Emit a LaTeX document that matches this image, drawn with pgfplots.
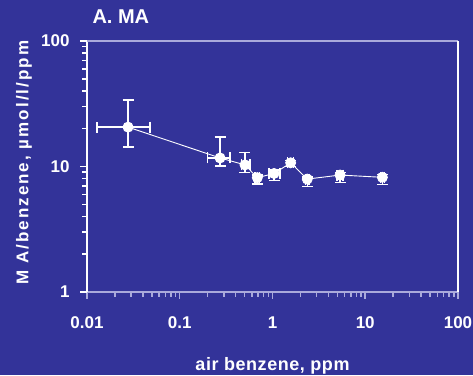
\documentclass[border=0pt]{standalone}
\usepackage{pgfplots}
\pgfplotsset{compat=1.18}
\usepackage{fontspec}
\setmainfont{Liberation Sans}
\definecolor{bg}{RGB}{51,51,153}
\definecolor{lav}{RGB}{170,170,220}
\begin{document}
\begin{tikzpicture}
\fill[bg] (-87pt,-83pt) rectangle (386pt,292pt);
\begin{axis}[
  at={(0,0)}, anchor=south west,
  scale only axis, width=371pt, height=251pt,
  xmode=log, ymode=log,
  xmin=0.01, xmax=100, ymin=1, ymax=100,
  axis x line*=bottom, axis y line*=left,
  xtick={0.01,0.1,1,10,100}, xticklabels={0.01,0.1,1,10,100},
  ytick={1,10,100}, yticklabels={1,10,100},
  minor xtick={0.02,0.03,0.04,0.05,0.06,0.07,0.08,0.09,0.2,0.3,0.4,0.5,0.6,0.7,0.8,0.9,2,3,4,5,6,7,8,9,20,30,40,50,60,70,80,90},
  minor ytick={2,3,4,5,6,7,8,9,20,30,40,50,60,70,80,90},
  tick align=outside,
  major tick length=7pt, minor tick length=5pt,
  x axis line style={lav, line width=1.2pt, -},
  y axis line style={white, line width=1.2pt, -},
  tick style={line width=1.5pt, draw=lav},
  every y tick/.append style={draw=white},
  every minor y tick/.append style={draw=white},
  ticklabel style={font=\fontsize{17}{17}\selectfont\bfseries, text=white},
  xticklabel style={yshift=-14pt},
  yticklabel style={xshift=-7pt},
  xlabel={air benzene, ppm},
  ylabel={M A/benzene, µmol/l/ppm},
  xlabel style={at={(axis description cs:0.5,-0.295)}, anchor=center, text=white,
    font=\fontsize{18}{18}\selectfont\bfseries\addfontfeature{LetterSpace=3}},
  ylabel style={at={(axis description cs:-0.17,0.515)}, anchor=center, text=white,
    font=\fontsize{17}{17}\selectfont\bfseries\addfontfeature{LetterSpace=12}},
  clip=false,
]
\draw[lav, line width=1.2pt] (rel axis cs:0,1) -- (rel axis cs:1,1);
\draw[white, line width=1.2pt] (rel axis cs:1,0) -- (rel axis cs:1,1);
\pgfplotsinvokeforeach{0.01,0.1,1,10,100}{
  \draw[lav, line width=1.5pt] (axis cs:#1,1) -- ++(0pt,-7pt);}
\pgfplotsinvokeforeach{0.02,0.03,0.04,0.05,0.06,0.07,0.08,0.09,0.2,0.3,0.4,0.5,0.6,0.7,0.8,0.9,2,3,4,5,6,7,8,9,20,30,40,50,60,70,80,90}{
  \draw[lav, line width=1.2pt] (axis cs:#1,1) -- ++(0pt,-5pt);}
\pgfplotsinvokeforeach{1,10,100}{
  \draw[white, line width=1.5pt] (axis cs:0.01,#1) -- ++(-7pt,0pt);}
\pgfplotsinvokeforeach{2,3,4,5,6,7,8,9,20,30,40,50,60,70,80,90}{
  \draw[white, line width=1.2pt] (axis cs:0.01,#1) -- ++(-5pt,0pt);}
\addplot[white, line width=0.9pt, mark=*, mark size=5pt,
  mark options={fill=white, draw=white, solid},
  error bars/.cd, x dir=both, x explicit, y dir=both, y explicit,
  error bar style={white, line width=1.4pt},
  error mark options={white, mark size=5.5pt, line width=1.4pt, rotate=90}]
coordinates {
(0.0277,20.6) += (0.0201,13.3) -= (0.0149,6.3)
(0.272,11.7) += (0.076,5.5) -= (0.072,1.6)
(0.505,10.3) += (0.066,2.6) -= (0.039,1.37)
(0.686,8.15) += (0.04,0.4) -= (0.04,0.9)
(1.04,8.8) += (0.17,0.6) -= (0.12,1.1)
(1.57,10.7) += (0.12,0.5) -= (0.12,0.7)
(2.37,7.94) += (0.1,0.3) -= (0.1,1.0)
(5.35,8.55) += (0.4,0.4) -= (0.4,1.1)
(15.3,8.2) += (0.8,0.4) -= (0.8,1.05)
};
\end{axis}
\node[anchor=west, text=white, font=\fontsize{20}{20}\selectfont\bfseries] at (2pt,275pt) {A. MA};
\pgfresetboundingbox
\path (-87pt,-83pt) rectangle (386pt,292pt);
\end{tikzpicture}
\end{document}
